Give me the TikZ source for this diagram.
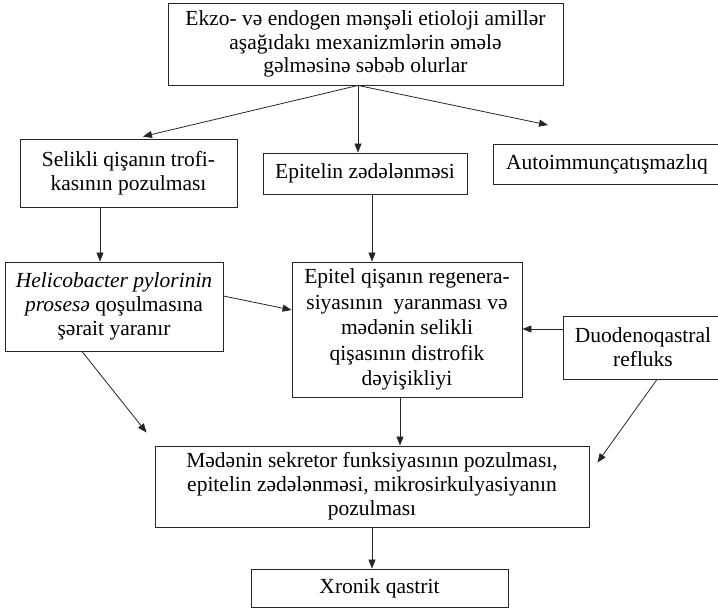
\documentclass[tikz,border=0pt]{standalone}
\usepackage{fontspec}
\setmainfont{Liberation Serif}
\usetikzlibrary{arrows.meta,positioning,calc}

\begin{document}
\begin{tikzpicture}[x=1pt,y=-1pt,
    box/.style={draw=black!85,line width=0.9pt,align=center,inner sep=2pt,
      font=\fontsize{21.5}{23.8}\selectfont},
    arr/.style={draw=black!85,line width=0.8pt,-{Triangle[length=9pt,width=7pt]}}]
        \clip (0,0) rectangle (718,609);
        \node[box,minimum width=395,minimum height=82] (cause) at (365.5,44)
          {Ekzo- və endogen mənşəli etioloji amillər\\aşağıdakı mexanizmlərin əmələ\\gəlməsinə səbəb olurlar};
        \node[box,minimum width=217,minimum height=68] (trofika) at (128.5,173)
          {Selikli qişanın trofi-\\kasının pozulması};
        \node[box,minimum width=204,minimum height=41] (epized) at (365,173.5)
          {Epitelin zədələnməsi};
        \node[box,minimum width=228,minimum height=40] (autoim) at (607,164)
          {Autoimmunçatışmazlıq};
        \node[box,minimum width=218,minimum height=89] (helico) at (114,306.5)
          {\textit{Helicobacter pylorinin}\\\textit{prosesə} qoşulmasına\\şərait yaranır};
        \node[box,minimum width=230,minimum height=135,
          font=\fontsize{21.5}{25.6}\selectfont] (regen) at (407,329.5)
          {Epitel qişanın regenera-\\siyasının\ \ yaranması və\\mədənin selikli\\qişasının distrofik\\dəyişikliyi};
        \node[box,minimum width=160,minimum height=63] (reflux) at (643,347.5)
          {Duodenoqastral\\refluks};
        \node[box,minimum width=434,minimum height=81] (sekret) at (372,486.5)
          {Mədənin sekretor funksiyasının pozulması,\\epitelin zədələnməsi, mikrosirkulyasiyanın\\pozulması};
        \node[box,minimum width=257,minimum height=38] (qastrit) at (379.5,588)
          {Xronik qastrit};
        % connectors
        \coordinate (fan) at ($(cause.south)+(-7.5,0)$);
        \coordinate (autotip) at (548,125);
        \draw[arr] (fan) -- ($(trofika.north)+(14.5,-2)$);
        \draw[arr] (fan) -- (fan |- epized.north);
        \draw[arr] (fan) -- (autotip);
        \draw[arr] ($(trofika.south)+(-28.5,0)$) -- ($(trofika.south |- helico.north)+(-28.5,0)$);
        \draw[arr] ($(epized.south)+(7,0)$) -- ($(epized.south |- regen.north)+(7,0)$);
        \draw[arr] ($(helico.east)+(0,-10.5)$) -- ($(regen.west)+(0,-19.5)$);
        \draw[arr] ($(reflux.west)+(0,-18.5)$) -- ($(regen.east |- reflux.west)+(0,-18.5)$);
        \draw[arr] ($(helico.south)+(-32,0)$) -- ($(sekret.north west)+(-8,-13)$);
        \draw[arr] ($(reflux.south)+(14,0)$) -- ($(sekret.north east)+(8,17)$);
        \draw[arr] ($(regen.south)+(-7,0)$) -- ($(regen.south |- sekret.north)+(-7,0)$);
        \draw[arr] (sekret.south) -- (sekret.south |- qastrit.north);
      \end{tikzpicture}
\end{document}
